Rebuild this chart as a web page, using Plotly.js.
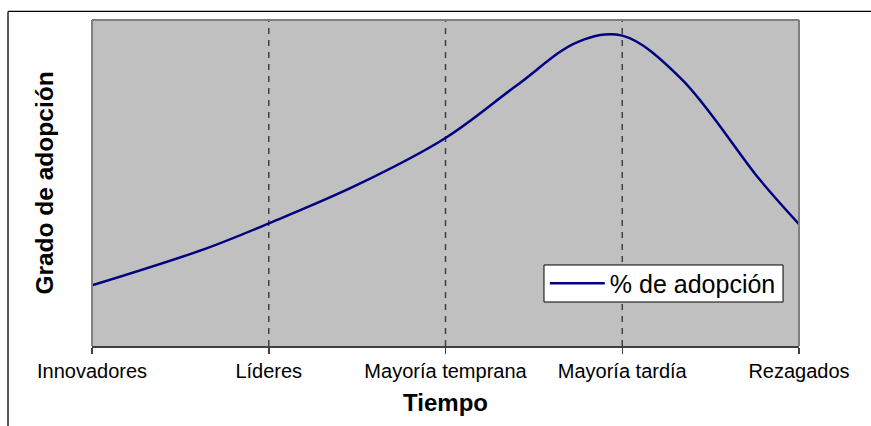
<!DOCTYPE html>
<html>
<head>
<meta charset="utf-8">
<script src="https://cdn.plot.ly/plotly-3.0.1.min.js"></script>
<style>html,body{margin:0;padding:0;background:#fff;}#chart{width:871px;height:426px;}</style>
</head>
<body>
<div id="chart"></div>
<script>
// Category tick labels (time stages)
const categories = ["Innovadores", "Líderes", "Mayoría temprana", "Mayoría tardía", "Rezagados"];
const categoryPositions = [0, 1, 2, 3, 4];
// Curve: time position (stage units) and adoption degree (0-100)
const tiempo = [0, 0.64, 1, 1.5, 2, 2.4, 2.75, 3, 3.33, 3.78, 4];
const adopcion = [18.6, 29.8, 37.6, 49.4, 63.8, 79.8, 93.3, 95.2, 82.2, 50.9, 37.4];
const seriesName = "% de adopción";

const FONT = "Liberation Sans, Arial, sans-serif";

const trace = {
  x: tiempo, y: adopcion, type: "scatter", mode: "lines",
  name: seriesName,
  line: {color: "#000080", width: 2.5, shape: "spline", smoothing: 1},
  showlegend: true, hoverinfo: "skip"
};

const shapes = [];
// dashed vertical stage separators
[1, 2, 3].forEach(v => shapes.push({
  type: "line", xref: "x", yref: "paper", x0: v, x1: v, y0: 0, y1: 1,
  line: {color: "#404040", width: 1.5, dash: "6px,6px"}, layer: "below"
}));
// plot area border (top, left, right)
const bc = "#808080";
shapes.push({type: "line", xref: "paper", yref: "paper", x0: 0, x1: 1, y0: 1, y1: 1, line: {color: bc, width: 2}, layer: "above"});
shapes.push({type: "line", xref: "paper", yref: "paper", x0: 0, x1: 0, y0: 0, y1: 1, line: {color: bc, width: 2}, layer: "above"});
shapes.push({type: "line", xref: "paper", yref: "paper", x0: 1, x1: 1, y0: 0, y1: 1, line: {color: bc, width: 2}, layer: "above"});
// outer chart frame (top and left edges)
shapes.push({type: "line", xref: "paper", yref: "paper", x0: -0.1188, x1: 1.2, y0: 1.0262, y1: 1.0262, line: {color: "#000", width: 1.3}, layer: "above"});
shapes.push({type: "line", xref: "paper", yref: "paper", x0: -0.1188, x1: -0.1188, y0: -0.35, y1: 1.0262, line: {color: "#000", width: 1.3}, layer: "above"});
// legend box
shapes.push({type: "rect", xref: "paper", yref: "paper", x0: 0.6393, x1: 0.9774, y0: 0.135, y1: 0.2485,
  fillcolor: "#ffffff", line: {color: "#000", width: 1}, layer: "above"});

const layout = {
  width: 871, height: 426,
  margin: {l: 92, r: 72, t: 20, b: 80, pad: 0},
  paper_bgcolor: "#ffffff",
  plot_bgcolor: "#c0c0c0",
  font: {family: FONT, color: "#000"},
  showlegend: true,
  xaxis: {
    range: [0, 4], tickvals: categoryPositions, ticktext: categories,
    ticks: "outside", ticklen: 6, tickwidth: 1.5, tickcolor: "#404040",
    showline: true, linecolor: "#404040", linewidth: 2,
    showgrid: false, zeroline: false, automargin: false,
    tickfont: {family: FONT, size: 20, color: "#000"},
    title: {text: "<b>Tiempo</b>", font: {family: FONT, size: 24, color: "#000"}, standoff: 13}
  },
  yaxis: {
    range: [0, 100], showticklabels: false, ticks: "", showgrid: false,
    zeroline: false, showline: false, automargin: false,
    title: {text: "<b>Grado de adopción</b>", font: {family: FONT, size: 24.5, color: "#000"}, standoff: 30}
  },
  legend: {
    x: 0.6405, y: 0.2623, xanchor: "left", yanchor: "top",
    bgcolor: "rgba(0,0,0,0)", borderwidth: 0,
    font: {family: FONT, size: 25, color: "#000"},
    itemwidth: 55
  },
  shapes: shapes
};

Plotly.newPlot("chart", [trace], layout, {displayModeBar: false, staticPlot: true});
</script>
</body>
</html>
